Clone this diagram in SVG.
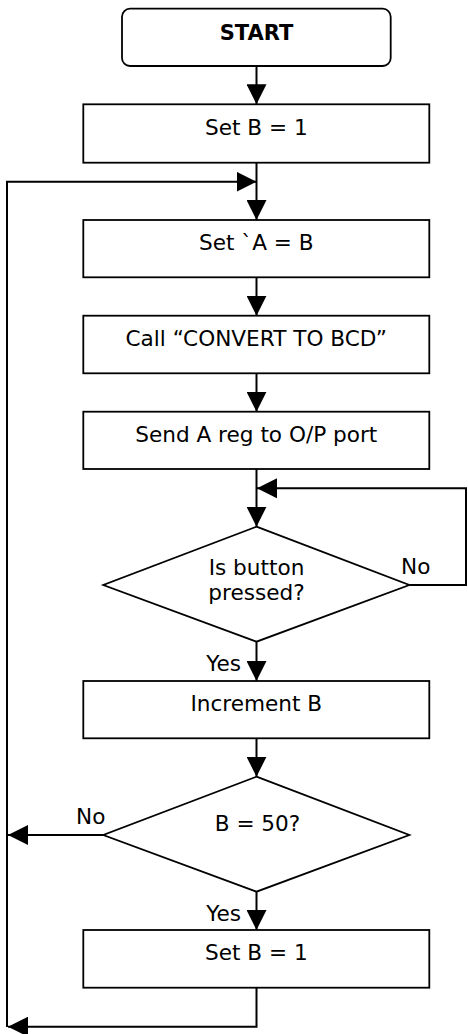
<svg xmlns="http://www.w3.org/2000/svg" width="468" height="1034" viewBox="0 0 468 1034">
<style>
.shape{fill:#fff;stroke:#000;stroke-width:1.8}
.conn{fill:none;stroke:#000;stroke-width:2}
.t{font-family:"DejaVu Sans",Verdana,sans-serif;font-size:21.6px;fill:#000;text-anchor:middle}
.b{font-weight:bold;font-size:21px}
.lbl{font-family:"DejaVu Sans",Verdana,sans-serif;font-size:21.6px;fill:#000}
</style>
<defs>
<marker id="ah" viewBox="0 0 20 20" markerWidth="20" markerHeight="20" refX="20" refY="10" orient="auto" markerUnits="userSpaceOnUse">
<path d="M0,0 L20,10 L0,20 z" fill="#000"/>
</marker>
</defs>
<g id="connectors">
<path class="conn" d="M256.5,66 V104.3" marker-end="url(#ah)"/>
<path class="conn" d="M256.5,162.7 V220" marker-end="url(#ah)"/>
<path class="conn" d="M7,1027 V181.7 H256.5" marker-end="url(#ah)"/>
<path class="conn" d="M256.5,277.3 V315.7" marker-end="url(#ah)"/>
<path class="conn" d="M256.5,373.3 V411.7" marker-end="url(#ah)"/>
<path class="conn" d="M256.5,469 V526.7" marker-end="url(#ah)"/>
<path class="conn" d="M409.3,585 H466 V488.3 H257" marker-end="url(#ah)"/>
<path class="conn" d="M256.5,641.7 V681" marker-end="url(#ah)"/>
<path class="conn" d="M256.5,738.3 V776.7" marker-end="url(#ah)"/>
<path class="conn" d="M103.3,835 H8" marker-end="url(#ah)"/>
<path class="conn" d="M256.5,891.7 V930" marker-end="url(#ah)"/>
<path class="conn" d="M256.5,987.7 V1026.7 H8" marker-end="url(#ah)"/>
<text class="lbl" x="401" y="574">No</text>
<text class="lbl" x="241" y="670.7" text-anchor="end">Yes</text>
<text class="lbl" x="76" y="824">No</text>
<text class="lbl" x="241" y="920.7" text-anchor="end">Yes</text>
</g>
<g id="start">
<rect class="shape" x="122" y="8.7" width="268.7" height="57.3" rx="8"/>
<text class="t b" x="256.5" y="40">START</text>
</g>
<g id="setB1">
<rect class="shape" x="83.3" y="104.3" width="346" height="58.4"/>
<text class="t" x="256.3" y="135">Set B = 1</text>
</g>
<g id="setAB">
<rect class="shape" x="83.3" y="220" width="346" height="57.3"/>
<text class="t" x="256.3" y="250">Set `A = B</text>
</g>
<g id="callBCD">
<rect class="shape" x="83.3" y="315.7" width="346" height="57.6"/>
<text class="t" x="256.3" y="345.7">Call “CONVERT TO BCD”</text>
</g>
<g id="sendA">
<rect class="shape" x="83.3" y="411.7" width="346" height="57.3"/>
<text class="t" x="256.3" y="441.7">Send A reg to O/P port</text>
</g>
<g id="isPressed">
<polygon class="shape" points="256.5,526.7 409.3,585 256.5,641.7 103.3,585"/>
<text class="t" x="256.5" y="575">Is button</text>
<text class="t" x="256.5" y="600">pressed?</text>
</g>
<g id="incB">
<rect class="shape" x="83.3" y="681" width="346" height="57.3"/>
<text class="t" x="256.3" y="710.7">Increment B</text>
</g>
<g id="isB50">
<polygon class="shape" points="256.5,776.7 409.3,835 256.5,891.7 103.3,835"/>
<text class="t" x="257.5" y="830.7">B = 50?</text>
</g>
<g id="resetB">
<rect class="shape" x="83.3" y="930" width="346" height="57.7"/>
<text class="t" x="256.3" y="960">Set B = 1</text>
</g>
</svg>
